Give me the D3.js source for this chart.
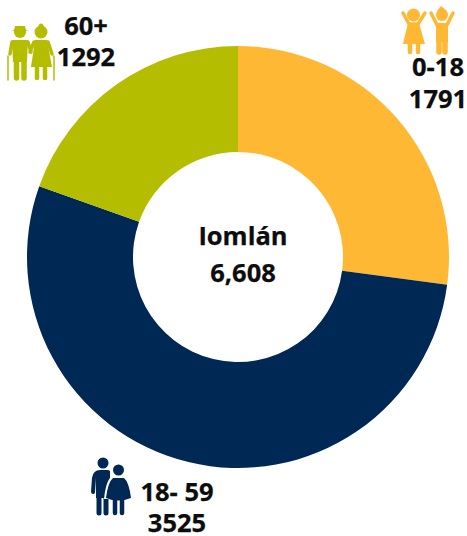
<!DOCTYPE html>
<html>
<head>
<meta charset="utf-8">
<script src="https://cdn.jsdelivr.net/npm/d3@7"></script>
<style>
 html, body { margin: 0; padding: 0; background: #fff; }
 svg { display: block; }
 text { font-family: "Open Sans", sans-serif; font-weight: 700; font-size: 25.5px; fill: #0d0d0d; stroke: #0d0d0d; stroke-width: 0.25px; text-anchor: middle; }
</style>
</head>
<body>
<script>
const width = 467;
const height = 536;
const centerX = 238;
const centerY = 257;
const outerRadius = 211;
const innerRadius = 105;

const ageGroups = ["0-18", "18- 59", "60+"];
const groupValues = [1791, 3525, 1292];
const groupColors = ["#ffb833", "#002855", "#b5bd00"];
const totalLabel = "Iomlán";
const totalValue = "6,608";

const svg = d3.select("body")
	.append("svg")
		.attr("width", width)
		.attr("height", height);

const pie = d3.pie().sort(null)(groupValues);
const arc = d3.arc().innerRadius(innerRadius).outerRadius(outerRadius);

svg.append("g")
	.attr("transform", "translate(" + centerX + "," + centerY + ")")
	.selectAll("path")
		.data(pie)
			.join("path")
				.attr("d", arc)
				.attr("fill", (d, i) => groupColors[i]);

// labels, one age line and one count line each
const labelPos = [
	{x: 438, y1: 76, y2: 108},
	{x: 177, y1: 501, y2: 532},
	{x: 86, y1: 35, y2: 66}
];

const labels = svg.append("g");
ageGroups.forEach((group, i) => {
	labels.append("text").attr("x", labelPos[i].x).attr("y", labelPos[i].y1).text(group);
	labels.append("text").attr("x", labelPos[i].x).attr("y", labelPos[i].y2).text(d3.format("d")(groupValues[i]));
});

labels.append("text").attr("x", 243).attr("y", 245).text(totalLabel);
labels.append("text").attr("x", 243).attr("y", 282).text(totalValue);

// small people icons
function head(g, x, y, r, color)
{
 g.append("circle").attr("cx", x).attr("cy", y).attr("r", r).attr("fill", color);
}

function shape(g, d, color)
{
 g.append("path").attr("d", d).attr("fill", color);
}

function limb(g, d, color, w)
{
 g.append("path").attr("d", d).attr("fill", "none").attr("stroke", color)
	.attr("stroke-width", w).attr("stroke-linecap", "round").attr("stroke-linejoin", "round");
}

// children, top right
const kids = svg.append("g");
const kidColor = groupColors[0];
head(kids, 413.5, 15, 6.5, kidColor);
limb(kids, "M403,13 L409,24 L418,24 L425,13", kidColor, 3.5);
shape(kids, "M408,23 L419,23 L425,44 L403,44 Z", kidColor);
limb(kids, "M410,44 L410,52", kidColor, 4.5);
limb(kids, "M418,44 L418,52", kidColor, 4.5);
head(kids, 442, 15, 6, kidColor);
shape(kids, "M441,6 L447,11 L437,11 Z", kidColor);
limb(kids, "M431,13 L437,25 L447,25 L453,13", kidColor, 3.5);
shape(kids, "M436,23 L448,23 L448,42 L436,42 Z", kidColor);
limb(kids, "M439,40 L439,52", kidColor, 5.5);
limb(kids, "M445,40 L445,52", kidColor, 5.5);

// adults, bottom left
const adults = svg.append("g");
const adultColor = groupColors[1];
head(adults, 103, 463, 5.5, adultColor);
limb(adults, "M93,492 L94,478 Q95,472 100,472 L108,472", adultColor, 4);
shape(adults, "M96,471 L110,471 L110,498 L96,498 Z", adultColor);
limb(adults, "M99,495 L99,513", adultColor, 5);
limb(adults, "M106,495 L106,513", adultColor, 5);
head(adults, 118.5, 470, 7, "#fff");
shape(adults, "M112,476 L125,476 Q131,480 133,499 L104,499 Q106,480 112,476 Z", "#fff");
head(adults, 118.5, 470, 5.5, adultColor);
shape(adults, "M113,478 L124,478 Q129,482 131,498 Q118,503 106,498 Q108,482 113,478 Z", adultColor);
limb(adults, "M115,500 L115,513", adultColor, 4.5);
limb(adults, "M122,500 L122,513", adultColor, 4.5);

// old couple, top left
const elders = svg.append("g");
const elderColor = groupColors[2];
head(elders, 20, 32, 6, elderColor);
shape(elders, "M15,26 L25,26 L26,30 L28,31 L12,31 L14,30 Z", elderColor);
limb(elders, "M10,54 L12,42 L28,42 L31,52", elderColor, 3.5);
shape(elders, "M12,40 L28,40 L27,62 L13,62 Z", elderColor);
limb(elders, "M16.5,60 L16.5,78", elderColor, 5.5);
limb(elders, "M24,60 L24,78", elderColor, 5.5);
limb(elders, "M8,56 L8,80", elderColor, 1.5);
head(elders, 41, 32, 6.5, elderColor);
head(elders, 41, 26, 2.5, elderColor);
limb(elders, "M30,52 L34,42 L48,42 L52,54", elderColor, 3.5);
shape(elders, "M35,40 L47,40 L52,67 L31,67 Z", elderColor);
limb(elders, "M37,65 L37,78", elderColor, 4.5);
limb(elders, "M45,65 L45,78", elderColor, 4.5);
limb(elders, "M54,56 L54,80", elderColor, 1.5);
</script>
</body>
</html>
